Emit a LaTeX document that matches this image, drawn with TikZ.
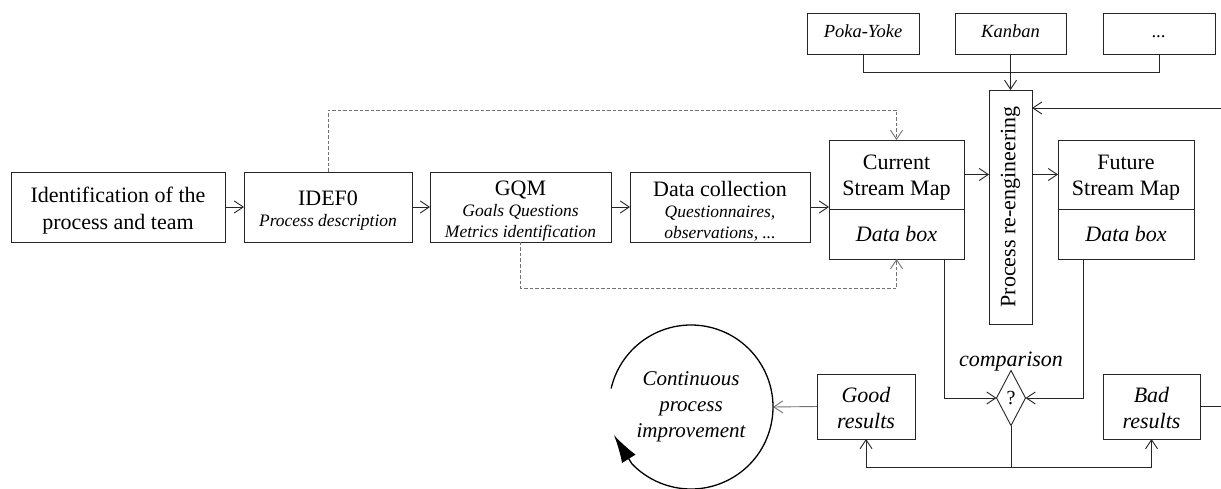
\documentclass[tikz,border=0pt]{standalone}
\usepackage{fontspec}
\setmainfont{Liberation Serif}
\usepackage{graphicx}
\usetikzlibrary{arrows.meta,shapes.geometric,calc}
\begin{document}
\begin{tikzpicture}[x=1pt,y=1pt,
  box/.style={draw=black!85, line width=0.9pt, inner sep=0pt, outer sep=0pt, align=center},
  txt/.style={inner sep=0pt, outer sep=0pt, align=center},
  conn/.style={draw=black!85, line width=0.9pt},
  arr/.style={conn, -{Straight Barb[length=9pt,width=12pt]}},
  dsh/.style={draw=black!55, line width=0.9pt, dash pattern=on 3.5pt off 2pt, -{Straight Barb[length=9pt,width=12pt]}},
  big/.style={font=\fontsize{22}{26.5}\selectfont},
  mixed/.style={font=\fontsize{17.5}{21}\selectfont},
  bigit/.style={font=\fontsize{22}{26}\selectfont\itshape},
  topit/.style={font=\fontsize{18.5}{22}\selectfont\itshape, text height=13pt, text depth=4.5pt}
  ]
\fill[white] (0,0) rectangle (1221,-489);
\useasboundingbox (0,0) rectangle (1221,-489);

% main row
\node[box, minimum width=214, minimum height=70,
  label={[name=identT, txt, big, yshift=-3.5pt]center:{Identification of the\\process and team}}] (ident) at (118,-207) {};
\node[box, minimum width=168, minimum height=70,
  label={[name=idefT, txt, mixed, yshift=-3.5pt]center:{{\fontsize{22}{21}\selectfont IDEF0}\\\textit{Process description}}}] (idef) at (328,-207) {};
\node[box, minimum width=181, minimum height=70,
  label={[name=gqmT, txt, mixed, yshift=-4pt]center:{{\fontsize{22}{21}\selectfont GQM}\\\textit{Goals Questions}\\\textit{Metrics identification}}}] (gqm) at (520.5,-207) {};
\node[box, minimum width=180, minimum height=70,
  label={[name=dataT, txt, mixed, yshift=-4pt]center:{{\fontsize{22}{21}\selectfont Data collection}\\\textit{Questionnaires,}\\\textit{observations, ...}}}] (data) at (720,-207) {};

\node[box, minimum width=135, minimum height=69,
  label={[name=curT, txt, big, yshift=-3pt]center:{Current\\Stream Map}}] (curtop) at (896.5,-174.5) {};
\node[box, bigit, minimum width=135, minimum height=50] (curbot) at (896.5,-234) {Data box};

\node[box, big, minimum width=43, minimum height=234] (reeng) at (1010.5,-207) {\rotatebox{90}{Process re-engineering}};

\node[box, minimum width=136, minimum height=69,
  label={[name=futT, txt, big, yshift=-3pt]center:{Future\\Stream Map}}] (futtop) at (1126,-174.5) {};
\node[box, bigit, minimum width=136, minimum height=50] (futbot) at (1126,-234) {Data box};

% top tools
\node[box, topit, minimum width=112, minimum height=41] (poka) at (863,-33.5) {Poka-Yoke};
\node[box, topit, minimum width=111, minimum height=41] (kanban) at (1010.5,-33.5) {Kanban};
\node[box, topit, minimum width=112, minimum height=41] (dots) at (1159,-33.5) {...};

% bottom
\node[draw=black!85, line width=0.9pt, diamond, minimum width=29, minimum height=55, inner sep=0pt, outer sep=0pt, font=\fontsize{20}{24}\selectfont] (dia) at (1011,-398) {?};
\node[bigit, inner sep=0pt, anchor=base] (cmp) at (1011,-366) {comparison};
\node[box, minimum width=98, minimum height=65,
  label={[name=goodT, txt, bigit, yshift=-1.5pt]center:{Good\\results}}] (good) at (866,-406.5) {};
\node[box, minimum width=97, minimum height=65,
  label={[name=badT, txt, bigit, yshift=-1.5pt]center:{Bad\\results}}] (bad) at (1151.5,-406.5) {};
\node[circle, minimum size=164, inner sep=0pt, outer sep=0pt, align=center, font=\fontsize{21}{26}\selectfont\itshape] (cpi) at (691,-407) {Continuous\\process\\improvement};

% connectors
\draw[arr] (ident.east) -- (idef.west);
\draw[arr] (idef.east) -- (gqm.west);
\draw[arr] (gqm.east) -- (data.west);
\draw[arr] (data.east) -- (data.east -| curtop.west);
\draw[arr] (curtop.east) -- (curtop.east -| reeng.west);
\draw[arr] (curtop.east -| reeng.east) -- (futtop.west);

\coordinate (jn) at (1010.5,-72);
\draw[conn] (poka.south) |- (jn);
\draw[conn] (dots.south) |- (jn);
\draw[arr] (kanban.south) -- (reeng.north);

\coordinate (back) at (1227,-108);
\draw[arr] (bad.east) -| (back) -- (back -| reeng.east);

\draw[dsh] (idef.north) |- ([yshift=30]curtop.north) -- (curtop.north);
\draw[dsh] (gqm.south) |- ([yshift=-29]curbot.south) -- (curbot.south);

\draw[arr] ([xshift=-20]curbot.south east) |- (dia.west);
\draw[arr] ([xshift=25]futbot.south west) |- (dia.east);

\coordinate (split) at (1011,-467);
\draw[conn] (dia.south) -- (split);
\draw[arr] (split) -| (good.south);
\draw[arr] (split) -| (bad.south);
\draw[arr, draw=black!55] (good.west) -- (cpi.east);

% cycle around the improvement circle
\coordinate (cyc) at (cpi.-136);
\draw[line width=1.3pt] (cpi.167) arc[start angle=167, end angle=-136, radius=82];
\draw[line width=1.3pt, -{Latex[length=28pt,width=16pt]}] (cyc) -- (cpi.-160);
\end{tikzpicture}
\end{document}
